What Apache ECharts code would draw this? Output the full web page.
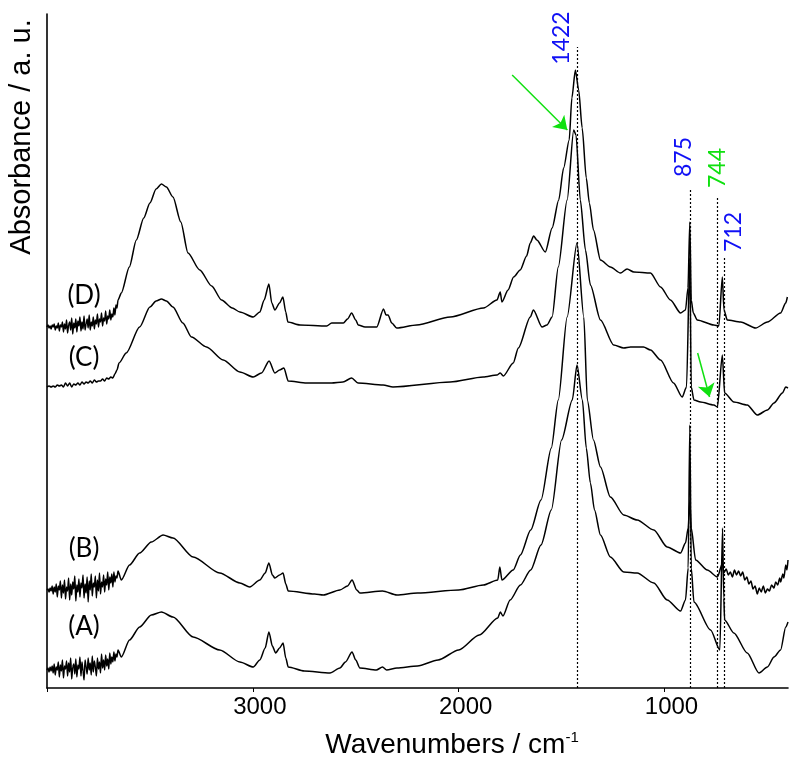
<!DOCTYPE html>
<html>
<head>
<meta charset="utf-8">
<script src="https://cdn.jsdelivr.net/npm/echarts@6/dist/echarts.min.js"></script>
<style>html,body{margin:0;padding:0;background:#fff}#c{width:800px;height:765px}</style>
</head>
<body>
<div id="c"></div>
<script>
// x ticks (wavenumbers, cm-1)
const wavenumberTicks = [1000, 2000, 3000, 4000];
const wavenumberLabels = [1000, 2000, 3000];
// marked bands
const bandPositions = [1422, 875, 744, 712];
const bandNames = ['1422', '875', '744', '712'];
const bandLineTops = [641, 500, 491, 430];
// spectra: [wavenumber, absorbance (a.u., offset for stacking)]
const specD = [
 [4000,361],[3995,363],[3990,360],[3985,362],[3980,359],[3975,363],[3970,361],[3965,364],[3960,358],[3955,362],
 [3950,360],[3945,365],[3940,357],[3935,363],[3930,361],[3925,366],[3920,356],[3915,364],[3910,359],[3905,368],
 [3900,355],[3895,363],[3890,366],[3885,358],[3880,370],[3875,354],[3870,365],[3865,360],[3860,369],[3855,356],
 [3850,367],[3845,362],[3840,371],[3835,357],[3830,366],[3825,359],[3820,372],[3815,358],[3810,364],[3805,369],
 [3800,360],[3795,373],[3790,358],[3785,366],[3780,362],[3775,371],[3770,359],[3765,368],[3760,364],[3755,374],
 [3750,361],[3745,369],[3740,366],[3735,375],[3730,362],[3725,370],[3720,367],[3715,377],[3710,364],[3705,372],
 [3700,369],[3695,378],[3690,368],[3685,374],[3680,371],[3675,380],[3670,373],[3665,383],[3660,380],[3655,388],
 [3639,395],[3600,421],[3566,448],[3530,470],[3500,485],[3470,499],[3444,504],[3420,501],[3388,491],[3350,466],
 [3315,435],[3258,418],[3200,402],[3152,388],[3100,380],[3063,376],
 [2998,371],[2966,376],[2945,388],[2922,404],[2908,385],[2893,378],[2870,385],[2854,391],[2840,376],[2830,366],
 [2771,363],[2641,362],[2617,365],[2560,365],[2540,369],[2520,375],[2500,368],[2488,363],[2455,361],[2398,361],
 [2365,379],[2353,373],[2343,373],[2325,365],[2301,360],[2204,363],[2041,371],[1879,380],[1814,388],[1798,396],
 [1790,386],[1760,398],[1733,411],[1701,418],[1670,432],[1652,445],[1636,452],[1620,448],[1579,436],[1546,460],
 [1514,488],[1490,520],[1463,548],[1450,590],[1433,618],[1417,598],[1400,560],[1380,510],[1365,485],[1345,458],[1311,428],
 [1263,421],[1214,415],[1182,419],[1149,416],[1068,415],[1019,401],[971,388],[922,375],[898,378],[886,400],
 [877,466],[870,388],[860,375],[841,368],[760,363],[736,362],[719,411],[711,378],[695,368],[630,366],
 [557,360],[500,366],[436,375],[411,385],[403,391]
];
const specC = [
 [4000,301],[3990,302],[3980,301],[3970,302],[3960,301],[3950,303],[3940,302],[3930,303],[3920,301],[3910,305],
 [3900,302],[3890,305],[3880,301],[3870,304],[3860,303],[3850,305],[3840,303],[3830,306],[3820,304],[3810,306],
 [3800,305],[3790,307],[3780,305],[3770,308],[3760,306],[3750,307],[3740,307],[3730,309],[3720,307],[3710,310],
 [3700,309],[3690,311],[3680,310],[3670,314],[3660,318],[3650,325],
 [3615,335],[3550,361],[3500,381],[3470,387],[3444,389],[3420,387],[3388,381],[3340,365],[3298,351],[3225,341],[3144,328],[3063,316],[2998,311],
 [2958,315],[2921,327],[2893,315],[2870,318],[2849,320],[2828,307],[2739,305],[2617,305],[2562,306],[2520,310],
 [2489,305],[2367,303],[2319,301],[2041,306],[1881,311],[1814,313],[1798,315],[1783,312],[1735,325],[1710,340],
 [1652,371],[1637,378],[1595,361],[1571,363],[1546,371],[1516,421],[1473,488],[1441,558],[1430,553],[1409,488],
 [1384,438],[1360,403],[1311,368],[1247,343],[1198,340],[1165,341],[1102,341],[1068,338],[1019,328],[956,305],
 [914,291],[893,301],[877,430],[870,301],[857,288],[825,286],[760,283],[743,281],[719,333],[708,295],
 [663,286],[598,283],[549,273],[500,278],[468,285],[427,295],[411,301],[400,300]
];
const specB = [
 [4000,98],[3995,99],[3990,96],[3985,100],[3980,97],[3975,102],[3970,94],[3965,101],[3960,96],[3955,104],
 [3950,91],[3945,102],[3940,98],[3935,107],[3930,90],[3925,103],[3920,95],[3915,108],[3910,89],[3905,101],
 [3900,97],[3895,110],[3890,88],[3885,104],[3880,93],[3875,106],[3870,99],[3865,112],[3860,87],[3855,103],
 [3850,96],[3845,109],[3840,91],[3835,105],[3830,100],[3825,113],[3820,90],[3815,104],[3810,95],[3805,111],
 [3800,86],[3795,107],[3790,98],[3785,114],[3780,92],[3775,105],[3770,101],[3765,112],[3760,90],[3755,108],
 [3750,97],[3745,115],[3740,94],[3735,106],[3730,101],[3725,113],[3720,96],[3715,109],[3710,103],[3705,116],
 [3700,98],[3695,111],[3690,105],[3685,114],[3680,101],[3675,116],[3670,106],[3665,112],[3660,110],[3655,117],
 [3639,108],[3599,123],[3550,135],[3493,146],[3436,153],[3388,150],[3290,131],[3161,115],[3063,105],[3015,101],
 [2966,108],[2940,115],[2922,125],[2905,113],[2893,110],[2870,113],[2853,115],[2840,104],[2828,97],[2700,94],
 [2658,93],[2577,98],[2540,102],[2518,108],[2495,98],[2480,95],[2370,97],[2300,93],[2200,95],[2000,98],
 [1880,103],[1810,108],[1800,121],[1790,108],[1735,118],[1700,133],[1650,158],[1600,188],[1550,240],[1516,288],
 [1473,371],[1425,445],[1392,371],[1375,288],[1345,248],[1311,221],[1263,191],[1198,173],[1133,168],[1052,158],
 [987,141],[922,135],[898,145],[885,160],[877,188],[870,160],[849,128],[792,118],[743,111],[718,125],
 [712,115],[700,119],[690,113],[680,116],[670,111],[660,118],[650,113],[640,117],[630,112],[620,116],
 [610,108],[600,111],[590,104],[580,107],[570,99],[560,102],[549,94],[540,100],[530,96],[520,102],
 [510,95],[500,99],[490,97],[480,103],[468,100],[460,106],[450,103],[440,110],[436,106],[425,114],
 [420,110],[411,123],[405,118],[400,128]
];
const specA = [
 [4000,18],[3995,20],[3990,16],[3985,21],[3980,17],[3975,22],[3970,15],[3965,24],[3960,13],[3955,21],
 [3950,18],[3945,26],[3940,11],[3935,23],[3930,17],[3925,28],[3920,10],[3915,22],[3910,19],[3905,27],
 [3900,12],[3895,25],[3890,16],[3885,30],[3880,9],[3875,21],[3870,24],[3865,14],[3860,29],[3855,11],
 [3850,23],[3845,19],[3840,31],[3835,12],[3830,26],[3825,17],[3820,8],[3815,28],[3810,21],[3805,14],
 [3800,30],[3795,18],[3790,25],[3785,13],[3780,32],[3775,16],[3770,27],[3765,21],[3760,12],[3755,30],
 [3750,19],[3745,26],[3740,15],[3735,34],[3730,20],[3725,28],[3720,18],[3715,33],[3710,22],[3705,29],
 [3700,19],[3695,35],[3690,24],[3685,31],[3680,26],[3675,36],[3670,27],[3665,34],[3660,31],[3655,38],
 [3639,31],[3599,48],[3550,61],[3493,73],[3444,76],[3388,71],[3290,51],[3161,38],[3063,26],[2998,21],
 [2966,28],[2940,40],[2922,56],[2905,42],[2889,35],[2870,40],[2853,45],[2840,30],[2828,21],[2750,17],
 [2625,15],[2577,20],[2550,26],[2518,36],[2500,28],[2480,20],[2400,18],[2370,21],[2350,18],[2300,20],
 [2200,22],[2100,28],[2000,38],[1900,53],[1810,70],[1798,76],[1785,72],[1750,88],[1700,103],[1650,118],
 [1600,143],[1550,178],[1500,248],[1448,288],[1425,323],[1399,288],[1380,240],[1360,205],[1340,178],[1311,153],
 [1263,131],[1198,116],[1133,115],[1052,105],[987,88],[922,77],[898,88],[885,120],[877,263],[870,120],
 [857,86],[776,58],[731,38],[718,160],[712,90],[708,68],[663,55],[598,35],[541,15],[500,21],
 [468,31],[436,38],[411,61],[400,66]
];
// green arrows (from -> to)
const arrows = [
  [[1740, 613], [1472, 558]],
  [[839, 335], [781, 291]]
];
const seriesNames = ['(D)', '(C)', '(B)', '(A)'];
const seriesLabelPos = [[84, 296], [84, 358], [84, 549], [84, 627]];

const chart = echarts.init(document.getElementById('c'), null, {renderer: 'canvas'});
const spectrum = (name, data) => ({
  name, type: 'line', data, showSymbol: false, symbol: 'none', silent: true,
  smooth: 0.25, smoothMonotone: 'x',
  lineStyle: {color: '#000', width: 1.5}, z: 3, animation: false
});
const blue = '#1010f5', green = '#10e010';
const bandColors = [blue, blue, green, blue];
const bandLabelPos = [[562, 38], [684, 157], [718, 168], [734, 232]];
const axisFont = 'Liberation Sans, Arial, sans-serif';

chart.setOption({
  animation: false,
  grid: {left: 47, right: 12, top: 14, bottom: 77, containLabel: false},
  xAxis: {
    type: 'value', min: 400, max: 4000, inverse: true,
    axisLine: {show: true, onZero: false, lineStyle: {color: '#000', width: 1.6}},
    axisTick: {show: true, length: 4, customValues: wavenumberTicks, lineStyle: {color: '#000', width: 1}},
    axisLabel: {show: true, customValues: wavenumberLabels, color: '#000', fontSize: 24,
      fontFamily: axisFont, margin: 7, padding: [0, 0, 0, 14], formatter: v => String(v)},
    splitLine: {show: false}
  },
  yAxis: {
    type: 'value', min: 0, max: 674,
    axisLine: {show: true, lineStyle: {color: '#000', width: 1.6}},
    axisTick: {show: false}, axisLabel: {show: false}, splitLine: {show: false}
  },
  series: [
    spectrum('D', specD), spectrum('C', specC), spectrum('B', specB), spectrum('A', specA),
    {
      type: 'lines', coordinateSystem: 'cartesian2d', silent: true, z: 2,
      lineStyle: {color: '#000', width: 1.2, type: [2, 2], opacity: 1},
      data: bandPositions.map((w, i) => ({coords: [[w, 0], [w, bandLineTops[i]]]}))
    },
    {
      type: 'lines', coordinateSystem: 'cartesian2d', silent: true, z: 4,
      symbol: ['none', 'arrow'], symbolSize: 13,
      lineStyle: {color: green, width: 1.5, opacity: 1},
      data: arrows.map(a => ({coords: a}))
    }
  ],
  graphic: [
    {type: 'text', x: 452, y: 745, style: {
      text: 'Wavenumbers / cm{s|-1}', rich: {s: {fontSize: 15, verticalAlign: 'top', padding: [0,0,14,0], fontFamily: axisFont, fill: '#000'}},
      fontSize: 28, fontFamily: axisFont, fill: '#000', align: 'center', verticalAlign: 'middle'}},
    {type: 'text', x: 22, y: 137, rotation: Math.PI / 2, style: {
      text: 'Absorbance / a. u.', fontSize: 29, fontFamily: axisFont, fill: '#000',
      align: 'center', verticalAlign: 'middle'}},
    ...seriesNames.map((t, i) => ({type: 'text', x: seriesLabelPos[i][0], y: seriesLabelPos[i][1], style: {
      text: t, fontSize: 26, fontFamily: 'Lato, Open Sans, sans-serif', fill: '#000', align: 'center', verticalAlign: 'middle'}})),
    ...bandNames.map((t, i) => ({type: 'text', x: bandLabelPos[i][0], y: bandLabelPos[i][1], rotation: Math.PI / 2, style: {
      text: t, fontSize: 23, fontFamily: 'Lato, Open Sans, sans-serif', fill: bandColors[i], align: 'center', verticalAlign: 'middle'}}))
  ]
});
</script>
</body>
</html>
